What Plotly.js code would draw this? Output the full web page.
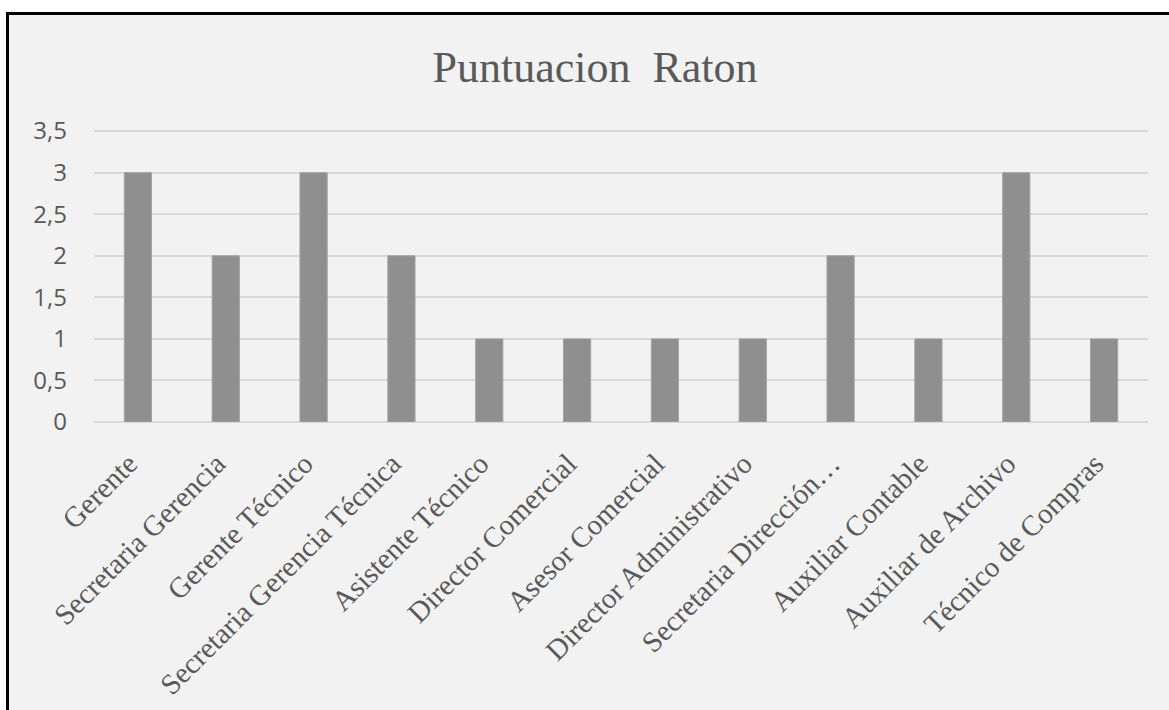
<!DOCTYPE html>
<html>
<head>
<meta charset="utf-8">
<script src="https://cdn.plot.ly/plotly-3.0.1.min.js"></script>
<style>
  html, body { margin: 0; padding: 0; background: #ffffff; overflow: hidden; }
  #chart { width: 1169px; height: 710px; }
</style>
</head>
<body>
<div id="chart"></div>
<script>
const categories = [
  "Gerente",
  "Secretaria Gerencia",
  "Gerente Técnico",
  "Secretaria Gerencia Técnica",
  "Asistente Técnico",
  "Director Comercial",
  "Asesor Comercial",
  "Director Administrativo",
  "Secretaria Dirección…",
  "Auxiliar Contable",
  "Auxiliar de Archivo",
  "Técnico de Compras"
];
const puntuacion = [3, 2, 3, 2, 1, 1, 1, 1, 2, 1, 3, 1];
const yTickVals = [0, 0.5, 1, 1.5, 2, 2.5, 3, 3.5];
const yTickText = ["0", "0,5", "1", "1,5", "2", "2,5", "3", "3,5"];
const chartTitle = "Puntuacion  Raton";

const trace = {
  type: "bar",
  x: categories,
  y: puntuacion,
  marker: { color: "#8f8f8f", line: { color: "#a3a3a3", width: 1 } },
  hoverinfo: "x+y"
};

const W = 1169, H = 710;
const L = 94, R = 21, T = 129, B = 288;
const pw = W - L - R, ph = H - T - B;

const layout = {
  width: W, height: H,
  margin: { l: L, r: R, t: T, b: B, pad: 0 },
  paper_bgcolor: "#ffffff",
  plot_bgcolor: "rgba(0,0,0,0)",
  showlegend: false,
  bargap: 0.69,
  title: {
    text: chartTitle,
    font: { family: "Liberation Serif, Times New Roman, serif", size: 44, color: "#595959" },
    xref: "paper", x: (595 - L) / pw, xanchor: "center",
    yref: "container", y: 1 - 67 / H, yanchor: "middle"
  },
  xaxis: {
    type: "category",
    tickangle: -45,
    tickfont: { family: "Liberation Serif, Times New Roman, serif", size: 29, color: "#595959" },
    showgrid: false,
    showline: false,
    ticks: "",
    ticklabelstandoff: 18,
    ticklabelshift: -9,
    automargin: false
  },
  yaxis: {
    range: [0, 3.525],
    tickvals: yTickVals,
    ticktext: yTickText,
    tickfont: { family: "Open Sans, Liberation Sans, sans-serif", size: 24, color: "#595959" },
    showgrid: true,
    gridcolor: "#d9d9d9",
    gridwidth: 2,
    zeroline: true,
    zerolinecolor: "#d9d9d9",
    zerolinewidth: 2,
    showline: false,
    ticks: "",
    ticklabelstandoff: 26,
    automargin: false
  },
  shapes: [{
    type: "rect",
    layer: "below",
    xref: "paper", yref: "paper",
    x0: (7.5 - L) / pw, x1: 2,
    y0: -2, y1: (H - B - 13.5) / ph,
    fillcolor: "#f2f2f2",
    line: { color: "#000000", width: 3 }
  }]
};

Plotly.newPlot("chart", [trace], layout, { displayModeBar: false, staticPlot: true });
</script>
</body>
</html>
